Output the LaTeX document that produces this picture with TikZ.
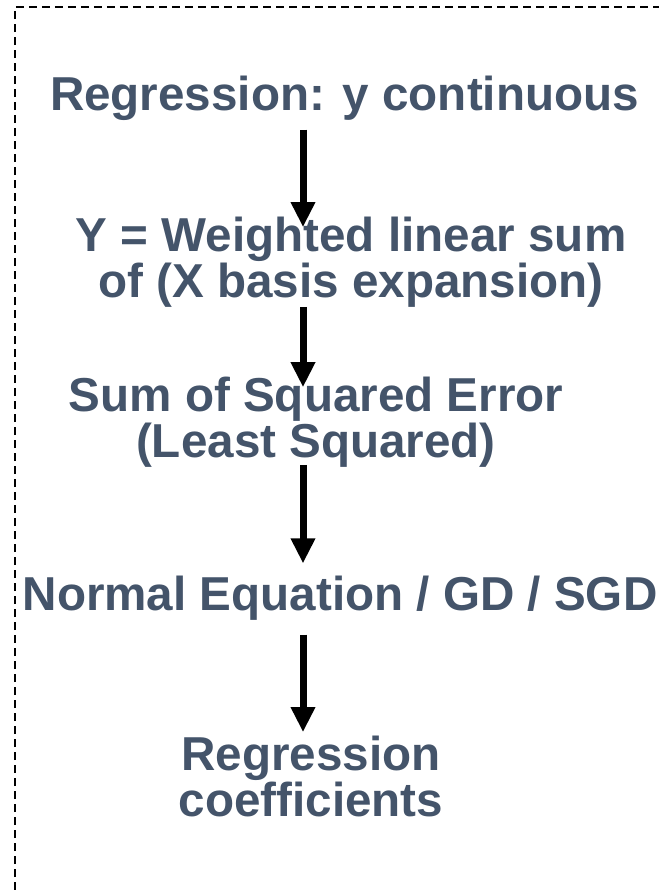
\documentclass[tikz,border=0pt]{standalone}
\usepackage{fontspec}
\setmainfont{Liberation Sans}
\usepackage{xcolor}
\usepackage{tikz}
\usetikzlibrary{calc,arrows.meta}
\definecolor{slateText}{HTML}{44546A}
\tikzset{
  stepbox/.style={rectangle, align=center, text=slateText, inner sep=0pt, font=\fontsize{23.8}{21.5}\selectfont\bfseries},
  flowarrow/.style={-{Triangle[length=12.5pt,width=11.5pt]}, line width=3.5pt, draw=black},
  framebox/.style={dash pattern=on 4pt off 2.5pt, line width=0.7pt, draw=black},
}

\begin{document}
\begin{tikzpicture}[x=0.5pt,y=-0.5pt]
  \useasboundingbox (0,0) rectangle (659,890);
  \draw[framebox] (15,890) -- (15,7) -- (659,7);

  \node[stepbox] (reg) at (344.5,98) {Regression: y continuous};
  \node[stepbox] (wls) at (351,262) {Y = Weighted linear sum\\of (X basis expansion)};
  \node[stepbox] (sse) at (316,422) {Sum of Squared Error\\(Least Squared)};
  \node[stepbox] (neq) at (340,598) {Normal Equation / GD / SGD};
  \node[stepbox, font=\fontsize{23.8}{23}\selectfont\bfseries] (coef) at (311,776) {Regression\\coefficients};

  \coordinate (ax) at (303,0);
  \draw[flowarrow] (reg.south -| ax) ++(0,9) -- ($(wls.north -| ax)+(0,11)$);
  \draw[flowarrow] (wls.south -| ax) ++(0,-1) -- ($(sse.north -| ax)+(0,11)$);
  \draw[flowarrow] (sse.south -| ax) ++(0,-3) -- ($(neq.north -| ax)+(0,-12)$);
  \draw[flowarrow] (neq.south -| ax) ++(0,14) -- ($(coef.north -| ax)+(0,-3)$);
\end{tikzpicture}
\end{document}
